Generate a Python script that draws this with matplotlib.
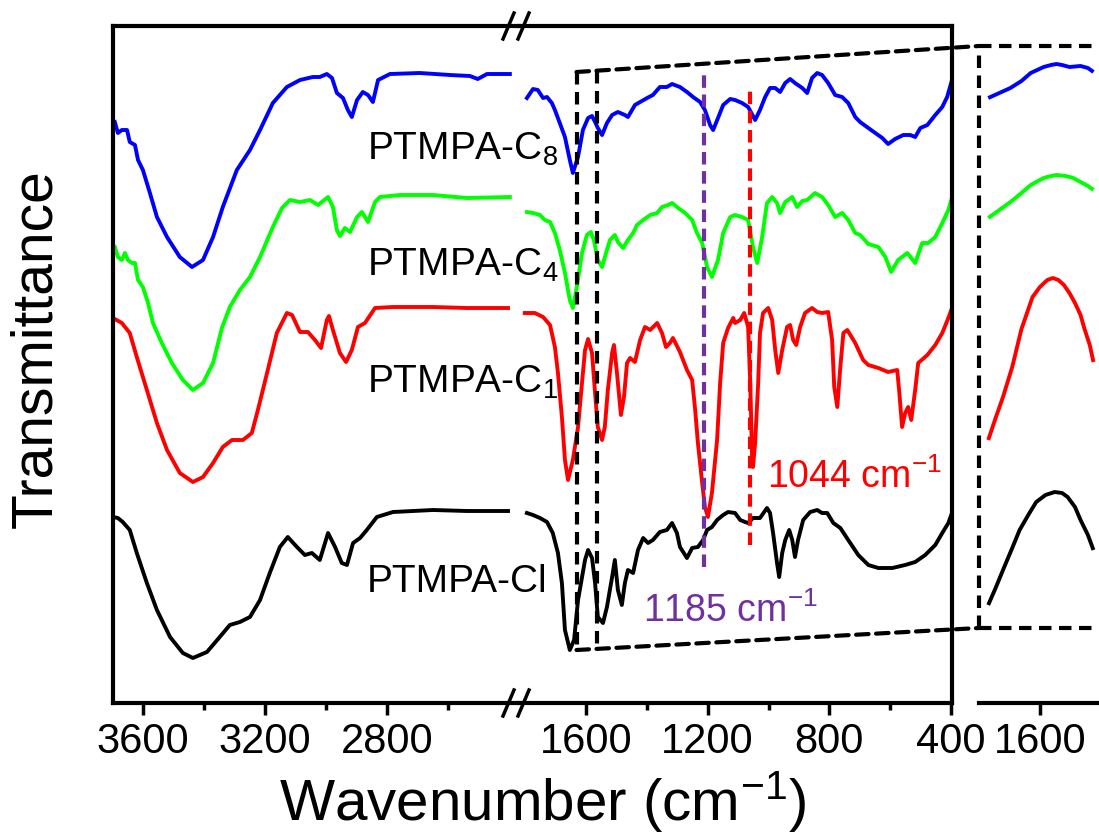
import matplotlib
matplotlib.use("Agg")
import matplotlib.pyplot as plt
from matplotlib.patches import ConnectionPatch
from matplotlib.ticker import FixedLocator, NullLocator

plt.rcParams['font.family'] = ['Liberation Sans', 'DejaVu Sans']
plt.rcParams['mathtext.fontset'] = 'custom'
plt.rcParams['mathtext.rm'] = 'Liberation Sans'
plt.rcParams['mathtext.it'] = 'Liberation Sans:italic'
plt.rcParams['mathtext.bf'] = 'Liberation Sans:bold'

# ---- spectra, high wavenumber part (3700 - 2400 cm-1), offset transmittance (a.u.)
C8_HI_WN = [3693, 3683, 3670, 3653, 3644, 3627, 3617, 3601, 3578, 3555, 3522, 3480, 3440,
            3404, 3371, 3339, 3293, 3250, 3217, 3175, 3129, 3086, 3044, 3021, 2998, 2981,
            2965, 2945, 2929, 2916, 2899, 2880, 2863, 2847, 2830, 2791, 2693, 2594, 2529,
            2503, 2473, 2398]
C8_HI_T = [581, 570, 573, 573, 561, 558, 543, 533, 510, 486, 466, 446, 436,
           443, 466, 496, 533, 553, 573, 600, 616, 623, 626, 626, 629, 625,
           610, 605, 593, 586, 603, 611, 608, 601, 623, 629, 630, 628, 627,
           624, 629, 629]

C4_HI_WN = [3693, 3683, 3670, 3660, 3650, 3637, 3627, 3617, 3601, 3585, 3568, 3539, 3506,
            3470, 3437, 3404, 3371, 3342, 3316, 3283, 3250, 3217, 3175, 3145, 3119, 3086,
            3053, 3027, 2994, 2978, 2965, 2955, 2939, 2922, 2899, 2883, 2863, 2840, 2824,
            2758, 2650, 2539, 2398]
C4_HI_T = [456, 446, 443, 450, 443, 440, 440, 423, 416, 401, 380, 360, 340,
           323, 313, 320, 340, 375, 396, 413, 426, 446, 476, 495, 503, 501,
           503, 498, 506, 496, 473, 467, 475, 471, 486, 491, 481, 501, 506,
           508, 508, 505, 506]

C1_HI_WN = [3699, 3670, 3644, 3621, 3588, 3555, 3522, 3480, 3437, 3404, 3371, 3339, 3309,
            3273, 3244, 3224, 3194, 3162, 3129, 3112, 3086, 3060, 3037, 3017, 2998, 2991,
            2978, 2955, 2935, 2916, 2896, 2873, 2840, 2781, 2650, 2539, 2404]
C1_HI_T = [385, 380, 370, 346, 313, 280, 253, 230, 221, 226, 240, 256, 263,
           263, 270, 293, 330, 370, 390, 388, 371, 371, 363, 355, 383, 387,
           373, 350, 341, 353, 376, 380, 395, 396, 396, 395, 395]

CL_HI_WN = [3699, 3683, 3667, 3644, 3621, 3588, 3555, 3512, 3470, 3437, 3391, 3349, 3316,
            3283, 3250, 3217, 3185, 3152, 3126, 3096, 3070, 3047, 3021, 2994, 2971, 2949,
            2932, 2912, 2889, 2867, 2834, 2781, 2650, 2539, 2404]
CL_HI_T = [186, 185, 181, 173, 150, 120, 93, 66, 50, 45, 51, 66, 78,
           81, 86, 103, 130, 156, 166, 156, 148, 150, 143, 170, 156, 140,
           138, 160, 165, 173, 186, 191, 193, 192, 192]

# ---- spectra, fingerprint part (1800 - 400 cm-1)
C8_LO_WN = [1794, 1774, 1758, 1741, 1728, 1712, 1702, 1686, 1669, 1653, 1643, 1626, 1610,
            1593, 1580, 1570, 1561, 1547, 1531, 1514, 1495, 1472, 1462, 1439, 1422, 1399,
            1380, 1357, 1334, 1317, 1291, 1268, 1248, 1225, 1209, 1192, 1182, 1166, 1149,
            1126, 1110, 1087, 1067, 1044, 1028, 1011, 995, 978, 962, 945, 929, 913, 889,
            873, 857, 840, 824, 804, 781, 758, 738, 715, 699, 672, 649, 626, 607, 584,
            557, 534, 518, 501, 478, 452, 429, 413, 397]
C8_LO_T = [605, 614, 613, 605, 606, 600, 593, 580, 566, 543, 530, 546, 573,
           585, 587, 581, 575, 568, 580, 588, 591, 588, 586, 598, 601, 605,
           608, 616, 616, 619, 616, 611, 606, 601, 593, 578, 573, 585, 598,
           604, 603, 600, 596, 583, 593, 606, 615, 615, 611, 620, 624, 620, 615,
           610, 625, 630, 628, 620, 608, 606, 600, 586, 581, 575, 570, 565, 559, 564,
           568, 568, 566, 575, 578, 588, 596, 606, 623]

C4_LO_WN = [1794, 1774, 1751, 1735, 1718, 1702, 1686, 1669, 1653, 1643, 1630, 1613, 1597,
            1584, 1574, 1561, 1547, 1534, 1521, 1505, 1495, 1478, 1462, 1445, 1432, 1412,
            1389, 1366, 1350, 1330, 1317, 1297, 1274, 1251, 1235, 1218, 1202, 1186, 1166,
            1149, 1126, 1110, 1087, 1067, 1051, 1037, 1021, 1005, 988, 972, 962, 945, 922,
            906, 889, 873, 847, 824, 804, 781, 758, 738, 715, 699, 672, 639, 616, 597,
            574, 544, 518, 495, 475, 452, 429, 409, 397]
C4_LO_T = [491, 490, 488, 483, 481, 470, 453, 430, 403, 395, 416, 450, 468,
           471, 463, 443, 436, 450, 463, 468, 461, 455, 463, 470, 478, 483,
           488, 490, 496, 498, 500, 495, 490, 483, 470, 460, 436, 426, 443,
           470, 486, 488, 486, 483, 456, 440, 466, 500, 506, 500, 490, 501, 506,
           496, 502, 503, 510, 506, 498, 486, 490, 483, 470, 468, 459, 456, 446, 431,
           443, 450, 440, 460, 460, 466, 480, 493, 505]

C1_LO_WN = [1801, 1768, 1741, 1718, 1702, 1692, 1679, 1669, 1659, 1643, 1626, 1613, 1603,
            1593, 1580, 1570, 1561, 1547, 1538, 1528, 1514, 1508, 1498, 1485, 1475, 1465,
            1455, 1439, 1422, 1406, 1389, 1366, 1350, 1337, 1324, 1314, 1291, 1268, 1251,
            1241, 1232, 1218, 1209, 1199, 1186, 1169, 1159, 1149, 1133, 1116, 1110, 1093,
            1080, 1067, 1060, 1054, 1051, 1044, 1034, 1028, 1018, 1001, 988, 978, 968,
            955, 939, 929, 919, 909, 896, 880, 857, 840, 824, 804, 791, 784, 774, 764,
            754, 741, 715, 689, 672, 639, 607, 577, 570, 561, 551, 541, 531, 518, 508,
            478, 452, 429, 409, 397]
C1_LO_T = [390, 390, 386, 378, 356, 330, 286, 243, 223, 243, 276, 320, 353,
           364, 350, 310, 276, 263, 276, 313, 350, 358, 330, 288, 306, 340,
           345, 341, 363, 376, 373, 380, 370, 356, 360, 365, 351, 333, 323,
           293, 260, 220, 196, 186, 210, 263, 320, 360, 375, 385, 380, 383,
           390, 376, 320, 246, 236, 260, 320, 370, 390, 395, 383, 353, 330,
           353, 376, 378, 363, 358, 376, 390, 395, 391, 390, 391, 363, 316, 296, 336,
           370, 373, 360, 343, 338, 335, 331, 333, 310, 276, 290, 296, 283, 313, 340,
           348, 358, 370, 385, 395]

CL_LO_WN = [1794, 1774, 1751, 1728, 1709, 1692, 1679, 1669, 1653, 1639, 1626, 1603, 1593,
            1580, 1570, 1561, 1544, 1531, 1514, 1505, 1495, 1482, 1472, 1462, 1445, 1429,
            1412, 1396, 1380, 1357, 1334, 1317, 1301, 1291, 1268, 1251, 1232, 1215, 1202,
            1186, 1169, 1149, 1133, 1110, 1093, 1077, 1067, 1051, 1028, 1005, 995, 985,
            972, 965, 955, 945, 932, 922, 913, 903, 886, 863, 840, 824, 807, 787, 764,
            738, 705, 672, 639, 593, 551, 518, 485, 452, 429, 409, 397]
CL_LO_T = [190, 188, 185, 181, 170, 150, 120, 73, 53, 63, 103, 143, 153,
           145, 120, 86, 80, 96, 126, 143, 113, 98, 120, 133, 130, 153,
           165, 160, 163, 171, 173, 180, 170, 156, 145, 155, 156, 163, 173,
           176, 183, 188, 191, 190, 183, 181, 180, 185, 185, 195, 190, 170,
           140, 126, 150, 163, 173, 163, 146, 163, 183, 191, 193, 190, 190, 180, 175,
           163, 148, 138, 135, 135, 138, 141, 148, 158, 170, 180, 190]

# ---- enlarged view around 1600 cm-1
ZOOM_C8_WN = [1628, 1622, 1616, 1610, 1605, 1598, 1594, 1591, 1588, 1584, 1578, 1574, 1571]
ZOOM_C8_T = [605, 610, 615, 622, 630, 636, 638, 639, 638, 636, 637, 635, 631]
ZOOM_C4_WN = [1628, 1622, 1616, 1610, 1605, 1598, 1594, 1591, 1586, 1582, 1577, 1574, 1571]
ZOOM_C4_T = [485, 493, 501, 510, 518, 525, 527, 528, 527, 525, 520, 517, 513]
ZOOM_C1_WN = [1628, 1624, 1620, 1615, 1610, 1604, 1600, 1596, 1593, 1590, 1587, 1584,
              1581, 1578, 1576, 1573, 1571]
ZOOM_C1_T = [263, 285, 306, 336, 374, 406, 416, 423, 425, 423, 418, 410, 400, 388, 375,
             358, 341]
ZOOM_CL_WN = [1628, 1624, 1620, 1615, 1611, 1606, 1602, 1597, 1592, 1588, 1585, 1581,
              1578, 1574, 1571]
ZOOM_CL_T = [98, 115, 133, 155, 173, 189, 201, 208, 211, 210, 206, 196, 183, 168, 153]

SAMPLES = ['PTMPA-C$_8$', 'PTMPA-C$_4$', 'PTMPA-C$_1$', 'PTMPA-Cl']
COLORS = ['#0000FF', '#00FF00', '#FF0000', '#000000']
LABEL_Y = [543, 427, 310, 111]

HI_TICKS, HI_MINOR = [3600, 3200, 2800], [3400, 3000, 2600]
LO_TICKS, LO_MINOR = [1600, 1200, 800, 400], [1400, 1000, 600]

# marked bands (drawn where they sit in the picture)
BAND_PURPLE, BAND_RED = 1213, 1060
# enlarged window edges in the fingerprint panel
ZOOM_X0, ZOOM_X1 = 1631, 1565

W, H = 1099, 832
fig = plt.figure(figsize=(W / 100, H / 100), dpi=100)


def px_rect(x0, y0, x1, y1):
    return [x0 / W, 1 - y1 / H, (x1 - x0) / W, (y1 - y0) / H]


ax_hi = fig.add_axes(px_rect(113, 26, 519, 703))
ax_lo = fig.add_axes(px_rect(519, 26, 952, 703))
ax_z = fig.add_axes(px_rect(979, 46, 1099, 628))
ax_lo.set_facecolor('none')
ax_z.set_facecolor('none')

hi_data = [(C8_HI_WN, C8_HI_T), (C4_HI_WN, C4_HI_T), (C1_HI_WN, C1_HI_T), (CL_HI_WN, CL_HI_T)]
lo_data = [(C8_LO_WN, C8_LO_T), (C4_LO_WN, C4_LO_T), (C1_LO_WN, C1_LO_T), (CL_LO_WN, CL_LO_T)]
z_data = [(ZOOM_C8_WN, ZOOM_C8_T), (ZOOM_C4_WN, ZOOM_C4_T), (ZOOM_C1_WN, ZOOM_C1_T),
          (ZOOM_CL_WN, ZOOM_CL_T)]

for (xh, yh), (xl, yl), (xz, yz), c in zip(hi_data, lo_data, z_data, COLORS):
    ax_hi.plot(xh, yh, color=c, lw=2.8, solid_joinstyle='round')
    ax_lo.plot(xl, yl, color=c, lw=2.8, solid_joinstyle='round')
    ax_z.plot(xz, yz, color=c, lw=2.8, solid_joinstyle='round', solid_capstyle='butt')

for ax in (ax_hi, ax_lo):
    ax.set_ylim(0, 677)
    ax.set_yticks([])
    for s in ax.spines.values():
        s.set_linewidth(3)
    ax.tick_params(axis='x', which='major', direction='out', length=8.5, width=2.5,
                   labelsize=30, pad=5)
    ax.tick_params(axis='x', which='minor', direction='out', length=5, width=2.5)

ax_hi.set_xlim(3699, 2368)
ax_hi.xaxis.set_major_locator(FixedLocator(HI_TICKS))
ax_hi.xaxis.set_minor_locator(FixedLocator(HI_MINOR))
ax_hi.spines['right'].set_visible(False)

ax_lo.set_xlim(1820, 397)
ax_lo.xaxis.set_major_locator(FixedLocator(LO_TICKS))
ax_lo.xaxis.set_minor_locator(FixedLocator(LO_MINOR))
ax_lo.spines['left'].set_visible(False)

# axis break marks
for yb in (0, 1):
    for dx in (-16, -1):
        x0 = 1 + dx / 406
        x1 = 1 + (dx + 11) / 406
        ax_hi.plot([x0, x1], [yb - 13 / 677, yb + 13 / 677], color='k', lw=2.5,
                   transform=ax_hi.transAxes, clip_on=False, zorder=6)

# sample labels
for lab, yv in zip(SAMPLES, LABEL_Y):
    ax_hi.text(2867, yv, lab, fontsize=28, va='baseline', ha='left', zorder=10)

# marked bands
ax_lo.plot([BAND_PURPLE, BAND_PURPLE], [136, 628], color='#7030A0', lw=3,
           linestyle=(0, (3, 1.6)), zorder=4)
ax_lo.plot([BAND_RED, BAND_RED], [158, 618], color='#FF0000', lw=3,
           linestyle=(0, (3, 1.6)), zorder=4)
ax_lo.text(1412, 81, '1185 cm$^{-1}$', color='#7030A0', fontsize=27, va='baseline')
ax_lo.text(1005, 215, '1044 cm$^{-1}$', color='#FF0000', fontsize=27, va='baseline')

# enlarged window
dash = (0, (3, 1.8))
ax_lo.plot([ZOOM_X0, ZOOM_X0], [631, 53], color='k', lw=3, linestyle=dash, zorder=5)
ax_lo.plot([ZOOM_X1, ZOOM_X1], [632, 54], color='k', lw=3, linestyle=dash, zorder=5)

ax_z.set_xlim(1633, 1568)
ax_z.set_ylim(75, 657)
ax_z.set_xticks([])
ax_z.set_yticks([])
for s in ax_z.spines.values():
    s.set_visible(False)
# dashed frame of the enlarged view
frame_kw = dict(color='k', lw=3, linestyle=dash, transform=ax_z.transAxes, clip_on=False)
ax_z.plot([0, 0], [0, 1], **frame_kw)
ax_z.plot([0, 1], [1, 1], **frame_kw)
ax_z.plot([0, 1], [0, 0], **frame_kw)

sec = ax_z.secondary_xaxis(-75 / 582)
sec.set_xticks([1600])
sec.xaxis.set_minor_locator(NullLocator())
sec.spines['bottom'].set_linewidth(3)
sec.tick_params(axis='x', direction='out', length=8.5, width=2.5, labelsize=30, pad=5)

for ya, yb in ((631, 1), (53, 0)):
    con = ConnectionPatch(xyA=(ZOOM_X0, ya), coordsA='data', axesA=ax_lo,
                          xyB=(0, yb), coordsB='axes fraction', axesB=ax_z,
                          color='k', lw=3, linestyle=dash)
    fig.add_artist(con)

fig.text(36 / W, 1 - 349 / H, 'Transmittance', rotation=90, fontsize=41,
         ha='center', va='center')
fig.text(542 / W, 1 - 820 / H, 'Wavenumber (cm$^{-1}$)', fontsize=42,
         ha='center', va='baseline')

fig.savefig('out.png', dpi=100)
